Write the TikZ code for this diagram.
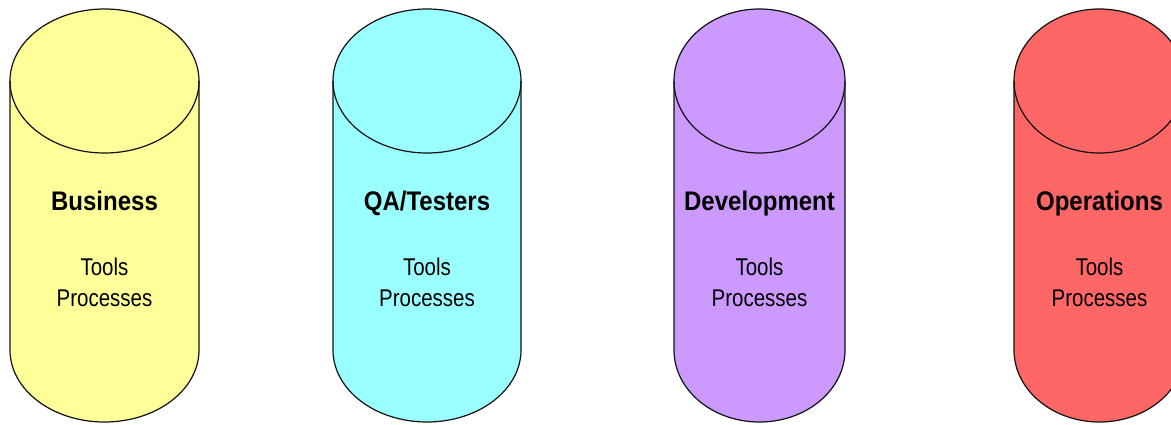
\documentclass[tikz,border=0pt]{standalone}
\usepackage{fontspec}
\setmainfont{Liberation Sans}
\definecolor{bizfill}{HTML}{FFFF99}
\definecolor{qafill}{HTML}{99FFFF}
\definecolor{devfill}{HTML}{CC99FF}
\definecolor{opsfill}{HTML}{FF6666}
\definecolor{edge}{HTML}{111111}
\tikzset{
  silobody/.style={draw=edge, line width=1.2pt},
  silotitle/.style={font=\bfseries\fontsize{24}{26}\selectfont, inner sep=0pt, anchor=base},
  silotext/.style={font=\fontsize{20.5}{29}\selectfont, inner sep=0pt, anchor=base},
}
% \drawsilo{name}{centre x}{x radius}{fill colour}{title}
\newcommand\drawsilo[5]{%
  \path[silobody, fill=#4]
    (#2-#3,343) -- (#2-#3,74)
    arc[start angle=180, end angle=360, x radius=#3, y radius=72]
    -- (#2+#3,343)
    arc[start angle=0, end angle=180, x radius=#3, y radius=72] -- cycle;
  \draw[silobody]
    (#2-#3,343) arc[start angle=180, end angle=360, x radius=#3, y radius=72];
  \node[silotitle] (#1-title) at (#2,213.5) {\scalebox{1}[1.12]{#5}};
  \node[silotext] (#1-tools) at (#2,149) {\scalebox{1}[1.18]{Tools}};
  \node[silotext] (#1-proc) at (#2,118) {\scalebox{1}[1.18]{Processes}};
}
\begin{document}
\begin{tikzpicture}[x=1pt, y=1pt]
  \useasboundingbox (0,0) rectangle (1171,424);
  \clip (0,0) rectangle (1171,424);
  \fill[white] (0,0) rectangle (1171,424);
  \drawsilo{business}{104.5}{94.5}{bizfill}{Business}
  \drawsilo{qa}{427}{94}{qafill}{QA/Testers}
  \drawsilo{dev}{759.5}{85.5}{devfill}{Development}
  \drawsilo{ops}{1099.5}{85.5}{opsfill}{Operations}
\end{tikzpicture}
\end{document}
